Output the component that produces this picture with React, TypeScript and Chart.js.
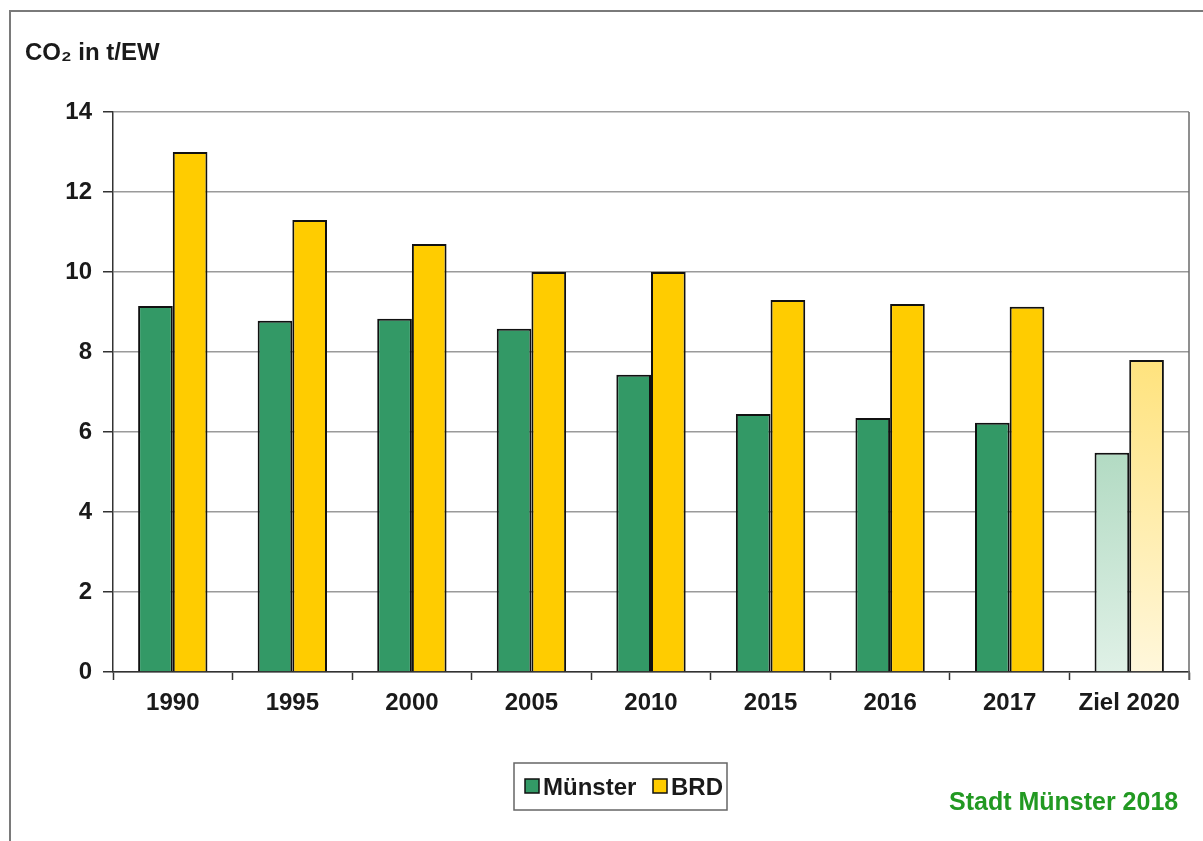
import React, { useEffect, useRef } from "react";
import { Chart, registerables } from "chart.js";

Chart.register(...registerables);

const categories = ["1990", "1995", "2000", "2005", "2010", "2015", "2016", "2017", "Ziel 2020"];
const muensterValues = [9.15, 8.78, 8.83, 8.58, 7.43, 6.45, 6.35, 6.23, 5.48];
const brdValues = [13.0, 11.3, 10.7, 10.0, 10.0, 9.3, 9.2, 9.13, 7.8];
const yTicks = [0, 2, 4, 6, 8, 10, 12, 14];
const seriesNames = ["Münster", "BRD"];
const titleText = "CO₂ in t/EW";
const sourceText = "Stadt Münster 2018";

const FONT = '"Liberation Sans", Arial, sans-serif';
const GREEN = "#339966";
const YELLOW = "#FFCC00";
const goalIndex = categories.length - 1;

function gradientFill(ctx: any, side: number, solid: string, top: string, bottom: string) {
  if (ctx.type !== "data" || ctx.dataIndex !== goalIndex) return solid;
  const chart = ctx.chart;
  const area = chart.chartArea;
  const xs = chart.scales && chart.scales.x;
  if (!area || !xs) return top;
  const cx = xs.getPixelForValue(ctx.dataIndex);
  const w = 35;
  const x0 = side < 0 ? cx - w : cx;
  const x1 = side < 0 ? cx : cx + w;
  const g = chart.ctx.createLinearGradient(side < 0 ? x0 : x1, area.top + 240, side < 0 ? x1 : x0, area.bottom);
  g.addColorStop(0, top);
  g.addColorStop(1, bottom);
  return g;
}

const decorPlugin = {
  id: "decor",
  afterDraw(chart: any) {
    const c = chart.ctx;
    const a = chart.chartArea;
    c.save();
    // outer frame
    c.strokeStyle = "#7a7a7a";
    c.lineWidth = 2;
    c.beginPath();
    c.moveTo(10, 845);
    c.lineTo(10, 11);
    c.lineTo(1210, 11);
    c.stroke();
    // right plot border
    c.strokeStyle = "#6a6a6a";
    c.lineWidth = 1.5;
    c.beginPath();
    c.moveTo(a.right, a.top);
    c.lineTo(a.right, a.bottom + 8);
    c.stroke();
    // title
    c.fillStyle = "#1a1a1a";
    c.font = `bold 24px ${FONT}`;
    c.textBaseline = "alphabetic";
    c.textAlign = "left";
    c.fillText(titleText, 25, 60);
    // legend
    c.strokeStyle = "#666";
    c.lineWidth = 1.5;
    c.strokeRect(514, 763, 213, 47);
    const items = [
      { name: seriesNames[0], color: GREEN, sx: 525, tx: 543 },
      { name: seriesNames[1], color: YELLOW, sx: 653, tx: 671 },
    ];
    c.font = `bold 24px ${FONT}`;
    for (const it of items) {
      c.fillStyle = it.color;
      c.fillRect(it.sx, 779, 14, 14);
      c.strokeStyle = "#111";
      c.lineWidth = 1.5;
      c.strokeRect(it.sx, 779, 14, 14);
      c.fillStyle = "#1a1a1a";
      c.fillText(it.name, it.tx, 795);
    }
    // source
    c.fillStyle = "#229922";
    c.font = `bold 25px ${FONT}`;
    c.fillText(sourceText, 949, 810);
    c.restore();
  },
};

export default function App() {
  const ref = useRef<HTMLCanvasElement | null>(null);
  useEffect(() => {
    if (!ref.current) return;
    const chart = new Chart(ref.current, {
      type: "bar",
      data: {
        labels: categories,
        datasets: [
          {
            label: seriesNames[0],
            data: muensterValues,
            backgroundColor: (ctx: any) => gradientFill(ctx, -1, GREEN, "#9dd0b2", "#e0f1e7"),
            borderColor: "#111",
            borderWidth: 2,
            categoryPercentage: 0.58,
            barPercentage: 1,
          },
          {
            label: seriesNames[1],
            data: brdValues,
            backgroundColor: (ctx: any) => gradientFill(ctx, 1, YELLOW, "#ffe27a", "#fff7dc"),
            borderColor: "#111",
            borderWidth: 2,
            categoryPercentage: 0.58,
            barPercentage: 1,
          },
        ],
      },
      options: {
        responsive: false,
        animation: false,
        devicePixelRatio: 1,
        layout: { padding: { left: 10, top: 112, right: 14, bottom: 0 } },
        plugins: {
          legend: { display: false },
          title: { display: false },
          tooltip: { enabled: false },
        },
        scales: {
          x: {
            afterFit: (s: any) => {
              s.height = 169;
            },
            grid: {
              display: true,
              drawOnChartArea: false,
              drawTicks: true,
              tickLength: 8,
              tickColor: "#333",
              tickWidth: 1.5,
              offset: true,
            },
            border: { display: true, color: "#333", width: 1.5 },
            ticks: {
              color: "#1a1a1a",
              font: { family: FONT, size: 24, weight: "bold" },
              padding: 9,
              maxRotation: 0,
              autoSkip: false,
            },
          },
          y: {
            min: 0,
            max: 14,
            afterFit: (s: any) => {
              s.width = 103;
            },
            afterBuildTicks: (s: any) => {
              s.ticks = yTicks.map((v) => ({ value: v }));
            },
            grid: {
              color: "#9a9a9a",
              lineWidth: 1.5,
              drawTicks: true,
              tickLength: 10,
              tickColor: "#333",
              tickWidth: 1.5,
            },
            border: { display: true, color: "#333", width: 1.5 },
            ticks: {
              color: "#1a1a1a",
              font: { family: FONT, size: 24, weight: "bold" },
              padding: 11,
            },
          },
        },
      },
      plugins: [decorPlugin],
    });
    return () => chart.destroy();
  }, []);
  return (
    <div style={{ position: "absolute", left: 0, top: 0, width: 1203, height: 841, background: "#fff" }}>
      <canvas ref={ref} width={1203} height={841} style={{ display: "block" }} />
    </div>
  );
}
